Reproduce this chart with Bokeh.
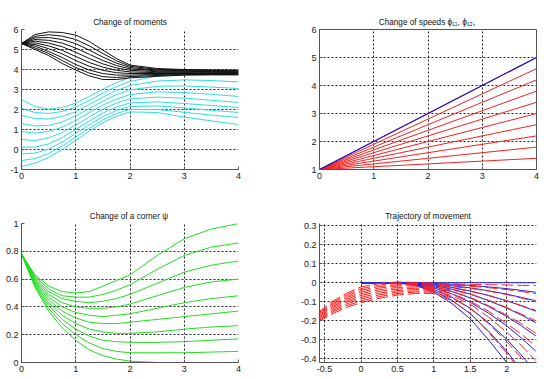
from bokeh.plotting import figure
from bokeh.layouts import column, row
from bokeh.models import Range1d, FixedTicker
from bokeh.embed import file_html
from bokeh.resources import INLINE

# ---------------- data ----------------
# Change of moments
mom_t = [0, 0.25, 0.5, 0.75, 1, 1.25, 1.5, 1.75, 2, 2.5, 3, 3.5, 4]
mom_black = [
    [5.30, 5.75, 5.88, 5.85, 5.72, 5.40, 4.97, 4.55, 4.22, 4.05, 4.00, 3.98, 3.97],
    [5.30, 5.66, 5.74, 5.67, 5.50, 5.18, 4.80, 4.44, 4.16, 4.01, 3.97, 3.95, 3.94],
    [5.30, 5.58, 5.60, 5.50, 5.29, 4.97, 4.62, 4.32, 4.10, 3.97, 3.94, 3.92, 3.91],
    [5.30, 5.50, 5.46, 5.32, 5.07, 4.76, 4.45, 4.20, 4.03, 3.93, 3.91, 3.89, 3.88],
    [5.30, 5.42, 5.32, 5.14, 4.86, 4.55, 4.28, 4.08, 3.96, 3.89, 3.87, 3.86, 3.85],
    [5.30, 5.33, 5.18, 4.96, 4.65, 4.35, 4.12, 3.96, 3.88, 3.84, 3.84, 3.83, 3.82],
    [5.30, 5.25, 5.04, 4.78, 4.45, 4.16, 3.96, 3.84, 3.80, 3.80, 3.80, 3.80, 3.79],
    [5.30, 5.17, 4.90, 4.60, 4.25, 3.97, 3.80, 3.72, 3.72, 3.75, 3.77, 3.77, 3.77],
    [5.30, 5.08, 4.80, 4.45, 4.10, 3.82, 3.64, 3.60, 3.65, 3.70, 3.74, 3.75, 3.75],
    [5.30, 5.00, 4.70, 4.30, 3.97, 3.68, 3.50, 3.50, 3.58, 3.66, 3.72, 3.73, 3.73],
]
mom_cyan = [
    [2.50, 2.15, 2.02, 2.10, 2.32, 2.65, 3.02, 3.35, 3.60, 3.85, 3.93, 3.92, 3.88],
    [2.05, 1.85, 1.80, 1.90, 2.12, 2.45, 2.82, 3.15, 3.40, 3.68, 3.78, 3.78, 3.75],
    [1.70, 1.55, 1.52, 1.65, 1.90, 2.25, 2.62, 2.95, 3.20, 3.42, 3.48, 3.45, 3.38],
    [1.30, 1.18, 1.20, 1.38, 1.68, 2.05, 2.42, 2.75, 2.98, 3.16, 3.18, 3.12, 3.05],
    [0.90, 0.82, 0.90, 1.12, 1.45, 1.85, 2.22, 2.52, 2.75, 2.88, 2.85, 2.76, 2.65],
    [0.50, 0.45, 0.58, 0.85, 1.22, 1.63, 2.02, 2.32, 2.53, 2.62, 2.57, 2.46, 2.35],
    [0.12, 0.12, 0.28, 0.60, 1.00, 1.42, 1.82, 2.12, 2.33, 2.38, 2.30, 2.20, 2.10],
    [-0.22, -0.18, 0.02, 0.37, 0.80, 1.24, 1.64, 1.95, 2.15, 2.18, 2.08, 1.96, 1.85],
    [-0.55, -0.45, -0.20, 0.18, 0.62, 1.07, 1.48, 1.80, 2.00, 2.00, 1.86, 1.72, 1.60],
    [-0.85, -0.68, -0.40, 0.00, 0.45, 0.92, 1.34, 1.66, 1.88, 1.85, 1.62, 1.43, 1.25],
]

# Change of speeds (straight lines from t=0 to t=4)
spd_t = [0, 4]
spd_start = 1.0
spd_red_end = [5.0, 4.6, 4.2, 3.8, 3.4, 3.0, 2.6, 2.2, 1.8, 1.4]
spd_blue_end = [5.0]

# Change of a corner psi
cor_t = [0, 0.25, 0.5, 0.75, 1, 1.25, 1.5, 1.75, 2, 2.5, 3, 3.5, 4]
cor_green = [
    [0.78, 0.63, 0.55, 0.51, 0.50, 0.51, 0.55, 0.59, 0.63, 0.77, 0.89, 0.96, 1.00],
    [0.78, 0.62, 0.53, 0.48, 0.47, 0.47, 0.49, 0.52, 0.56, 0.67, 0.77, 0.83, 0.86],
    [0.78, 0.61, 0.51, 0.46, 0.44, 0.43, 0.44, 0.46, 0.49, 0.57, 0.65, 0.70, 0.73],
    [0.78, 0.60, 0.49, 0.43, 0.40, 0.39, 0.39, 0.40, 0.42, 0.48, 0.54, 0.58, 0.60],
    [0.78, 0.59, 0.47, 0.40, 0.36, 0.34, 0.33, 0.34, 0.35, 0.39, 0.43, 0.46, 0.48],
    [0.78, 0.58, 0.45, 0.37, 0.32, 0.29, 0.28, 0.28, 0.29, 0.31, 0.33, 0.35, 0.37],
    [0.78, 0.57, 0.43, 0.34, 0.28, 0.24, 0.22, 0.21, 0.21, 0.22, 0.24, 0.255, 0.265],
    [0.78, 0.56, 0.41, 0.31, 0.24, 0.19, 0.16, 0.15, 0.145, 0.145, 0.15, 0.16, 0.17],
    [0.78, 0.55, 0.39, 0.28, 0.20, 0.14, 0.10, 0.08, 0.07, 0.07, 0.07, 0.075, 0.08],
    [0.78, 0.54, 0.37, 0.25, 0.16, 0.09, 0.05, 0.025, 0.01, 0.0, 0.0, 0.0, 0.0],
]

# Trajectory of movement
trj_blue_x = [0, 0.25, 0.5, 0.75, 1.0, 1.25, 1.5, 1.75, 2.0, 2.2, 2.4]
trj_blue = [
    [0, 0, 0, 0, 0, 0, 0, 0, 0, 0, 0],
    [0, 0, 0, -0.001, -0.004, -0.008, -0.014, -0.022, -0.031, -0.040, -0.050],
    [0, 0, 0, -0.002, -0.007, -0.016, -0.027, -0.042, -0.060, -0.077, -0.095],
    [0, 0, 0, -0.003, -0.011, -0.025, -0.043, -0.067, -0.095, -0.121, -0.150],
    [0, 0, 0, -0.004, -0.016, -0.034, -0.060, -0.094, -0.133, -0.170, -0.210],
    [0, 0, 0, -0.006, -0.021, -0.046, -0.080, -0.125, -0.177, -0.226, -0.280],
    [0, 0, 0, -0.008, -0.027, -0.059, -0.103, -0.160, -0.227, -0.290, -0.360],
    [0, 0, 0, -0.010, -0.035, -0.077, -0.134, -0.210, -0.297, -0.380, -0.470],
    [0, 0, 0, -0.012, -0.043, -0.093, -0.163, -0.254, -0.360, -0.460, -0.570],
    [0, 0, 0, -0.014, -0.050, -0.110, -0.190, -0.300, -0.420, -0.540, -0.670],
]
trj_red_x = [-0.6, -0.4, -0.2, 0, 0.25, 0.5, 0.75, 1.0, 1.25, 1.5, 1.75, 2.0, 2.2, 2.4]
trj_red = [
    [-0.160, -0.100, -0.055, -0.022, -0.004, 0.004, 0.002, -0.003, -0.006, -0.008, -0.010, -0.012, -0.014, -0.015],
    [-0.165, -0.107, -0.063, -0.031, -0.012, -0.003, -0.004, -0.008, -0.012, -0.018, -0.026, -0.036, -0.046, -0.058],
    [-0.170, -0.114, -0.071, -0.040, -0.020, -0.010, -0.010, -0.013, -0.020, -0.030, -0.044, -0.062, -0.080, -0.100],
    [-0.176, -0.121, -0.079, -0.049, -0.028, -0.017, -0.016, -0.019, -0.029, -0.045, -0.067, -0.094, -0.120, -0.145],
    [-0.181, -0.128, -0.087, -0.058, -0.037, -0.025, -0.022, -0.025, -0.038, -0.060, -0.092, -0.130, -0.165, -0.200],
    [-0.187, -0.135, -0.095, -0.067, -0.046, -0.033, -0.029, -0.031, -0.047, -0.077, -0.120, -0.170, -0.215, -0.265],
    [-0.192, -0.142, -0.103, -0.077, -0.055, -0.041, -0.036, -0.038, -0.058, -0.096, -0.150, -0.215, -0.270, -0.335],
    [-0.198, -0.150, -0.112, -0.086, -0.064, -0.049, -0.043, -0.044, -0.068, -0.113, -0.180, -0.260, -0.330, -0.410],
    [-0.204, -0.157, -0.121, -0.096, -0.073, -0.057, -0.049, -0.050, -0.080, -0.135, -0.215, -0.310, -0.395, -0.490],
    [-0.210, -0.165, -0.130, -0.105, -0.082, -0.065, -0.056, -0.056, -0.095, -0.160, -0.260, -0.370, -0.470, -0.580],
]

# ticks and labels
t04_ticks = [0, 1, 2, 3, 4]
t04_labels = ["0", "1", "2", "3", "4"]
mom_yticks = [-1, 0, 1, 2, 3, 4, 5, 6]
mom_ylabels = ["-1", "0", "1", "2", "3", "4", "5", "6"]
spd_yticks = [1, 2, 3, 4, 5, 6]
spd_ylabels = ["1", "2", "3", "4", "5", "6"]
cor_yticks = [0, 0.2, 0.4, 0.6, 0.8, 1]
cor_ylabels = ["0", "0.2", "0.4", "0.6", "0.8", "1"]
trj_xticks = [-0.5, 0, 0.5, 1, 1.5, 2]
trj_xlabels = ["-0.5", "0", "0.5", "1", "1.5", "2"]
trj_yticks = [-0.4, -0.3, -0.2, -0.1, 0, 0.1, 0.2, 0.3]
trj_ylabels = ["-0.4", "-0.3", "-0.2", "-0.1", "0", "0.1", "0.2", "0.3"]

FONT = "Liberation Sans"


def make_fig(title, w, h, bl, br, bt, bb, xr, yr, xt, xl, yt, yl, outline=False):
    p = figure(width=w, height=h, x_range=Range1d(*xr), y_range=Range1d(*yr),
               output_backend="svg", toolbar_location=None,
               min_border_left=bl, min_border_right=br,
               min_border_top=bt, min_border_bottom=bb)
    p.title.text = title
    p.title.align = "center"
    p.title.text_font = FONT
    p.title.text_font_size = "8.2px"
    p.title.text_font_style = "normal"
    p.title.text_color = "#111111"
    p.title.standoff = 6
    p.xaxis.ticker = FixedTicker(ticks=xt)
    p.yaxis.ticker = FixedTicker(ticks=yt)
    p.xaxis.major_label_overrides = dict(zip(xt, xl))
    p.yaxis.major_label_overrides = dict(zip(yt, yl))
    for ax in (p.xaxis[0], p.yaxis[0]):
        ax.major_tick_in = 3
        ax.major_tick_out = 0
        ax.minor_tick_line_color = None
        ax.major_tick_line_color = "#555555"
        ax.axis_line_color = "#555555"
        ax.major_label_text_font = FONT
        ax.major_label_text_font_size = "9px"
        ax.major_label_text_color = "#222222"
        ax.major_label_standoff = 3
    p.grid.grid_line_color = "black"
    p.grid.grid_line_dash = "2 2"
    p.grid.grid_line_alpha = 0.85
    p.outline_line_color = "#555555" if outline else None
    return p


# Plot 1: moments
p1 = make_fig("Change of moments", 289, 191, 21, 51, 29, 22, (0, 4), (-1, 6),
              t04_ticks, t04_labels, mom_yticks, mom_ylabels)
p1.multi_line(xs=[mom_t] * len(mom_cyan), ys=mom_cyan, line_color="#2fdede", line_width=1)
p1.multi_line(xs=[mom_t] * len(mom_black), ys=mom_black, line_color="#111111", line_width=1)

# Plot 2: speeds
p2 = make_fig("Change of speeds  \u03d5\u2081\u2081, \u03d5\u2081\u2082,", 256, 191, 30, 9, 29, 22,
              (0, 4), (1, 6), t04_ticks, t04_labels, spd_yticks, spd_ylabels, outline=True)
p2.multi_line(xs=[spd_t] * len(spd_red_end), ys=[[spd_start, e] for e in spd_red_end],
              line_color="#ee2222", line_width=1)
p2.multi_line(xs=[spd_t] * len(spd_blue_end), ys=[[spd_start, e] for e in spd_blue_end],
              line_color="#1a1acc", line_width=1.2)

# Plot 3: corner
p3 = make_fig("Change of a corner  \u03c8", 289, 186, 21, 51, 31, 15, (0, 4), (0, 1),
              t04_ticks, t04_labels, cor_yticks, cor_ylabels)
p3.multi_line(xs=[cor_t] * len(cor_green), ys=cor_green, line_color="#22dd22", line_width=1)

# Plot 4: trajectory
p4 = make_fig("Trajectory of movement", 256, 186, 30, 9, 32, 15, (-0.57, 2.41), (-0.42, 0.312),
              trj_xticks, trj_xlabels, trj_yticks, trj_ylabels)
p4.multi_line(xs=[trj_blue_x] * len(trj_blue), ys=trj_blue, line_color="#2222dd", line_width=1)
p4.multi_line(xs=[trj_red_x] * len(trj_red), ys=trj_red, line_color="#ff2222",
              line_width=1, line_dash="12 4")

layout = column(row(p1, p2), row(p3, p4))

open("out.html", "w").write(file_html(layout, INLINE))
